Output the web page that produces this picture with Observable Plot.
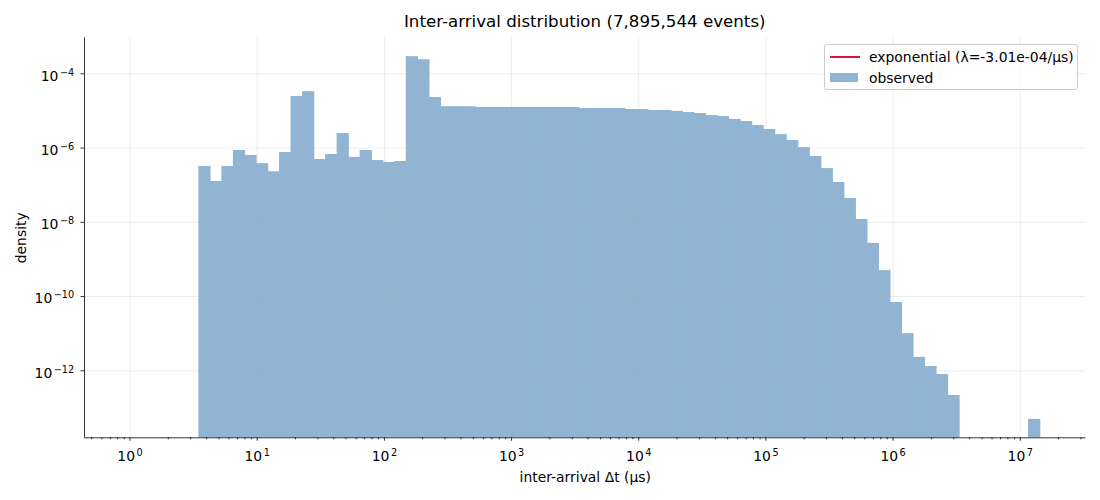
<!DOCTYPE html>
<html>
<head>
<meta charset="utf-8">
<script src="https://cdn.jsdelivr.net/npm/d3@7"></script>
<script src="https://cdn.jsdelivr.net/npm/@observablehq/plot@0.6"></script>
<style>
  body { margin: 0; background: #fff; font-family: "DejaVu Sans", sans-serif; color: #000; }
  #wrap { position: relative; width: 1100px; height: 500px; overflow: hidden; background: #fff; }
  #title { position: relative; height: 30px; }
  #title span { position: absolute; left: 84px; width: 1001.5px; top: 12px; text-align: center;
    font-size: 16.67px; line-height: 20px; white-space: nowrap; }
  #legend { position: absolute; left: 824px; top: 44px; width: 254px; height: 46px; box-sizing: border-box;
    border: 1px solid #cccccc; border-radius: 3px; background: rgba(255,255,255,0.8); font-size: 13.9px; }
  #legend .lab { position: absolute; left: 44px; line-height: 16px; white-space: nowrap; }
  #legend .line { position: absolute; left: 5px; width: 30px; height: 2px; }
  #legend .patch { position: absolute; left: 5px; width: 28px; height: 9.5px; }
</style>
</head>
<body>
<div id="wrap">
  <div id="title"><span></span></div>
  <div id="chart"></div>
  <div id="legend"></div>
</div>
<script>
// ---- data ----
const titleText = "Inter-arrival distribution (7,895,544 events)";
const xLabel = "inter-arrival Δt (μs)";
const yLabel = "density";
const legendLabels = ["exponential (λ=-3.01e-04/μs)", "observed"];
const legendColors = ["#dc143c", "#90b4d2"];

// log-spaced histogram bins: 79 bins from 10^0 to 10^7.159 μs
const binLogMin = 0;
const binLogMax = 7.159;
const binCount = 79;

// density per bin (0 = empty bin)
const density = [
  0, 0, 0, 0, 0, 0,
  3.2e-7, 1.26e-7, 3.2e-7, 8.6e-7, 6.3e-7, 3.8e-7, 2.3e-7, 7.6e-7,
  2.45e-5, 3.3e-5, 4.9e-7, 6.7e-7, 2.47e-6, 5.6e-7, 8.6e-7, 4.6e-7,
  4.1e-7, 4.35e-7, 2.9e-4, 2.4e-4, 2.3e-5, 1.3e-5, 1.3e-5, 1.3e-5,
  1.24e-5, 1.24e-5, 1.24e-5, 1.24e-5, 1.24e-5, 1.24e-5, 1.24e-5, 1.24e-5, 1.24e-5,
  1.16e-5, 1.16e-5, 1.16e-5, 1.16e-5, 1.09e-5, 1.09e-5, 1.03e-5, 1.03e-5,
  9.7e-6, 9.1e-6, 8.5e-6, 7.5e-6, 7.1e-6, 5.9e-6, 5.2e-6, 4.05e-6,
  3.16e-6, 2.3e-6, 1.6e-6, 1.03e-6, 5.9e-7, 2.8e-7, 1.18e-7, 4.4e-8,
  1.19e-8, 2.7e-9, 5.0e-10, 6.9e-11, 1.0e-11, 2.3e-12, 1.3e-12, 7.9e-13, 2.16e-13,
  0, 0, 0, 0, 0, 0,
  4.9e-14
];

const xTickExponents = [0, 1, 2, 3, 4, 5, 6, 7];
const yTickExponents = [-4, -6, -8, -10, -12];
const xDomainExp = [-0.358, 7.517];
const yDomainExp = [-13.805, -3.03];

// ---- build ----
document.querySelector("#title span").textContent = titleText;

const binW = (binLogMax - binLogMin) / binCount;
const bins = density.map((d, i) => ({
  x1: Math.pow(10, binLogMin + i * binW),
  x2: Math.pow(10, binLogMin + (i + 1) * binW),
  y: d
})).filter(d => d.y > 0);

const xDomain = xDomainExp.map(e => Math.pow(10, e));
const yDomain = yDomainExp.map(e => Math.pow(10, e));
const xTicks = xTickExponents.map(e => Math.pow(10, e));
const yTicks = yTickExponents.map(e => Math.pow(10, e));
const xMinor = [];
for (let k = -1; k <= 7; k++) for (let m = 2; m <= 9; m++) {
  const v = m * Math.pow(10, k);
  if (v >= xDomain[0] && v <= xDomain[1]) xMinor.push(v);
}
const fmt = d => "10^" + Math.round(Math.log10(d));
const gridStyle = {stroke: "#b0b0b0", strokeOpacity: 0.3, strokeWidth: 0.8};

const chart = Plot.plot({
  width: 1100,
  height: 470,
  marginTop: 7.3,
  marginLeft: 84,
  marginRight: 14.5,
  marginBottom: 62.7,
  style: {fontFamily: "DejaVu Sans", fontSize: "13.9px", background: "white", color: "black", overflow: "visible"},
  x: {type: "log", domain: xDomain},
  y: {type: "log", domain: yDomain},
  marks: [
    Plot.rect(bins, {x1: "x1", x2: "x2", y1: () => yDomain[0], y2: "y",
      fill: "#90b4d2", insetLeft: -0.35, insetRight: -0.35}),
    Plot.gridX(xTicks, gridStyle),
    Plot.gridY(yTicks, gridStyle),
    Plot.axisX(xMinor, {tickSize: 2, strokeWidth: 0.8, stroke: "black", text: null, label: null}),
    Plot.axisX(xTicks, {tickSize: 3.5, tickPadding: 10, strokeWidth: 0.8, stroke: "black",
      tickFormat: fmt, label: xLabel, labelAnchor: "center", labelArrow: "none", labelOffset: 44}),
    Plot.axisY(yTicks, {tickSize: 3.5, strokeWidth: 0.8, stroke: "black", text: null,
      label: yLabel, labelAnchor: "center", labelArrow: "none", labelOffset: 68}),
    Plot.text(yTicks, {y: d => d, frameAnchor: "left", dx: -10.3, dy: 2.3, textAnchor: "end",
      lineAnchor: "middle", text: fmt, fill: "black"}),
    Plot.ruleX([xDomain[0]], {stroke: "black", strokeWidth: 0.8}),
    Plot.ruleY([yDomain[0]], {stroke: "black", strokeWidth: 0.8})
  ]
});
document.getElementById("chart").appendChild(chart);

// superscript exponents in tick labels ("10^e" -> 10 with raised e)
const NS = "http://www.w3.org/2000/svg";
chart.querySelectorAll("text").forEach(t => {
  const s = t.textContent;
  if (!/^10\^-?\d+$/.test(s)) return;
  const parts = s.split("^");
  while (t.firstChild) t.removeChild(t.firstChild);
  const a = document.createElementNS(NS, "tspan");
  a.textContent = parts[0];
  const b = document.createElementNS(NS, "tspan");
  b.setAttribute("dy", "-5");
  b.setAttribute("dx", "1.5");
  b.setAttribute("font-size", "9.7px");
  b.textContent = parts[1].replace("-", "\u2212");
  t.appendChild(a); t.appendChild(b);
});

// legend
const legend = document.getElementById("legend");
legendLabels.forEach((lab, i) => {
  const cy = i === 0 ? 11.8 : 32.8;
  const sw = document.createElement("div");
  if (i === 0) {
    sw.className = "line";
    sw.style.top = (cy - 1) + "px";
  } else {
    sw.className = "patch";
    sw.style.top = (cy - 5.3) + "px";
  }
  sw.style.background = legendColors[i];
  legend.appendChild(sw);
  const tx = document.createElement("div");
  tx.className = "lab";
  tx.style.top = (cy - 8) + "px";
  tx.textContent = lab;
  legend.appendChild(tx);
});
</script>
</body>
</html>
